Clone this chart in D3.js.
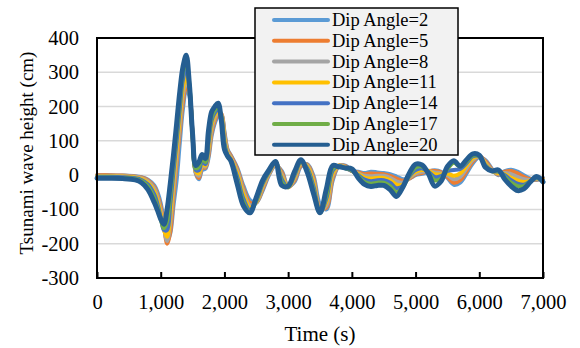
<!DOCTYPE html>
<html>
<head>
<meta charset="utf-8">
<script src="https://cdn.jsdelivr.net/npm/d3@7"></script>
<style>
  body { margin: 0; background: #fff; }
  svg text { font-family: "Liberation Serif", "Times New Roman", serif; fill: #000; }
</style>
</head>
<body>
<div id="chart"></div>
<script>
// time (s)
const times = [0, 200, 400, 600, 700, 800, 900,
  950, 1000, 1050, 1100, 1150, 1200, 1250, 1300, 1350, 1400, 1450, 1500, 1550, 1600,
  1650, 1700, 1750, 1800, 1850, 1900, 1950, 2000, 2050, 2100,
  2200, 2300, 2400, 2500, 2600, 2700, 2800, 2900, 3000, 3100, 3200, 3300, 3400, 3500,
  3600, 3700, 3800, 3900, 4000, 4100, 4200, 4300, 4400, 4500, 4600, 4700, 4800, 4900,
  5000, 5100, 5200, 5300, 5400, 5500, 5600, 5700, 5800, 5900, 6000, 6100, 6200, 6300,
  6400, 6500, 6600, 6700, 6800, 6900, 7000]

// wave height (cm) per dip angle
const dip2 = [0, 0, -1, -3, -6, -13, -30,
  -50, -82, -135, -192, -170, -90, -15, 95, 195, 248, 232, 122, 5, -12,
  15, 18, 50, 115, 152, 172, 178, 128, 75, 58,
  22, -32, -72, -80, -45, 0, 28, 12, -32, -20, 25, 32, -3, -85,
  -100, -15, 27, 28, 12, 10, 6, 10, 8, 6, 3, -4, -12, -10,
  0, 4, 10, 14, 10, -8, -28, -22, 5, 35, 52, 43, 18, 0,
  12, 16, 10, 0, -10, -14, -8]
const dip5 = [0, 0, -1, -4, -7, -15, -35,
  -58, -92, -145, -200, -165, -65, 35, 128, 215, 260, 240, 120, 8, -8,
  22, 22, 58, 125, 160, 178, 180, 122, 72, 56,
  18, -40, -80, -80, -40, 3, 30, 8, -35, -15, 28, 30, -10, -95,
  -95, -8, 28, 26, 12, 8, 3, 5, 4, 3, -2, -10, -16, -10,
  2, 6, 12, 12, 8, -5, -22, -15, 12, 40, 55, 40, 16, 2,
  10, 12, 5, -5, -12, -13, -10]
const dip8 = [-2, -2, -3, -5, -9, -18, -40,
  -66, -102, -152, -192, -140, -40, 55, 148, 235, 275, 245, 118, 10, -2,
  28, 25, 68, 135, 168, 182, 178, 115, 68, 52,
  12, -48, -88, -80, -35, 5, 32, 2, -35, -10, 32, 28, -18, -100,
  -88, 0, 28, 24, 12, 5, -2, -3, -2, -2, -8, -18, -22, -8,
  5, 10, 12, 8, 5, 0, -12, -5, 20, 45, 55, 35, 14, 4,
  6, 3, -5, -12, -14, -12, -12]
const dip11 = [-3, -3, -4, -7, -11, -22, -48,
  -75, -112, -160, -180, -115, -15, 75, 170, 255, 290, 250, 115, 12, 5,
  35, 28, 80, 148, 175, 185, 175, 105, 62, 48,
  5, -58, -95, -78, -30, 8, 35, -5, -35, -5, 35, 25, -25, -105,
  -78, 6, 28, 22, 12, 3, -7, -10, -8, -8, -15, -28, -28, -5,
  10, 15, 12, 3, 2, 5, -2, 5, 28, 50, 55, 32, 12, 6,
  3, -8, -15, -20, -16, -10, -13]
const dip14 = [-5, -5, -6, -9, -14, -27, -57,
  -85, -122, -160, -160, -85, 10, 100, 195, 280, 310, 260, 115, 15, 15,
  42, 32, 95, 160, 182, 192, 172, 95, 58, 45,
  -5, -70, -102, -75, -25, 10, 38, -12, -35, 0, 38, 20, -35, -108,
  -68, 14, 27, 20, 13, 0, -13, -18, -15, -15, -22, -38, -32, -3,
  15, 20, 10, -5, -3, 12, 15, 18, 35, 55, 55, 28, 12, 10,
  0, -15, -25, -28, -18, -8, -15]
const dip17 = [-7, -7, -8, -11, -17, -33, -68,
  -95, -128, -155, -135, -55, 35, 125, 220, 300, 330, 265, 115, 20, 25,
  50, 38, 110, 170, 190, 200, 170, 85, 55, 42,
  -15, -80, -108, -72, -20, 12, 40, -20, -35, 5, 40, 15, -45, -110,
  -58, 20, 25, 20, 15, -3, -20, -25, -22, -22, -32, -50, -35, 0,
  22, 25, 8, -15, -10, 18, 36, 25, 40, 58, 55, 25, 12, 12,
  -5, -22, -32, -32, -18, -6, -18]
const dip20 = [-9, -9, -10, -14, -22, -42, -80,
  -103, -128, -143, -100, -25, 58, 150, 244, 316, 350, 265, 120, 28, 38,
  60, 48, 130, 185, 200, 210, 162, 75, 55, 42,
  -25, -90, -110, -65, -15, 15, 40, -30, -32, 10, 45, 8, -55, -110,
  -40, 28, 24, 21, 18, -8, -27, -33, -30, -30, -42, -62, -35, 5,
  32, 30, 5, -32, -18, 25, 42, 26, 45, 62, 58, 22, 12, 15,
  -12, -32, -45, -40, -20, -4, -20]

const seriesNames = ['Dip Angle=2', 'Dip Angle=5', 'Dip Angle=8', 'Dip Angle=11',
  'Dip Angle=14', 'Dip Angle=17', 'Dip Angle=20']
const seriesValues = [dip2, dip5, dip8, dip11, dip14, dip17, dip20]
const xTicks = [0, 1000, 2000, 3000, 4000, 5000, 6000, 7000]
const yTicks = [-300, -200, -100, 0, 100, 200, 300, 400]

const colors = ['#5B9BD5', '#ED7D31', '#A5A5A5', '#FFC000', '#4472C4', '#70AD47', '#255E91']
const serif = '"Liberation Serif", "Times New Roman", serif'

const width = 580
const height = 348
const margin = { top: 38, right: 37, bottom: 70, left: 97 }
const chartWidth = width - margin.left - margin.right
const chartHeight = height - margin.top - margin.bottom

const svg = d3.select('#chart')
  .append('svg')
  .attr('width', width)
  .attr('height', height)

const chartArea = svg.append('g')
  .attr('transform', `translate(${margin.left}, ${margin.top})`)

const xScale = d3.scaleLinear()
  .domain([0, 7000])
  .range([0, chartWidth])

const yScale = d3.scaleLinear()
  .domain([-300, 400])
  .range([chartHeight, 0])

// gridlines
chartArea.selectAll('.grid')
  .data(yTicks.slice(1, -1))
  .enter()
  .append('line')
  .attr('x1', 0)
  .attr('x2', chartWidth)
  .attr('y1', d => yScale(d))
  .attr('y2', d => yScale(d))
  .attr('stroke', '#d9d9d9')
  .attr('stroke-width', 1.5)

// series
const line = d3.line()
  .x((d, i) => xScale(times[i]))
  .y(d => yScale(d))
  .curve(d3.curveCatmullRom.alpha(0.5))

seriesValues.forEach((vals, i) => {
  chartArea.append('path')
    .datum(vals)
    .attr('d', line)
    .attr('fill', 'none')
    .attr('stroke', colors[i])
    .attr('stroke-width', i === 6 ? 5 : 4)
    .attr('stroke-linejoin', 'round')
    .attr('stroke-linecap', 'round')
})

// plot border
chartArea.append('rect')
  .attr('width', chartWidth)
  .attr('height', chartHeight)
  .attr('fill', 'none')
  .attr('stroke', '#000')
  .attr('stroke-width', 2)

// X axis
const xAxis = chartArea.append('g')
  .attr('transform', `translate(0, ${chartHeight})`)
  .call(d3.axisBottom(xScale).tickValues(xTicks).tickSize(-6).tickPadding(16)
    .tickFormat(d3.format(',')))
xAxis.select('.domain').remove()
xAxis.selectAll('line').attr('stroke', '#000').attr('stroke-width', 2)
xAxis.selectAll('text')
  .style('font-family', serif)
  .style('font-size', '20.5px')

// Y axis
const yAxis = chartArea.append('g')
  .call(d3.axisLeft(yScale).tickValues(yTicks).tickSize(0).tickPadding(18)
    .tickFormat(d => String(d)))
yAxis.select('.domain').remove()
yAxis.selectAll('text')
  .style('font-family', serif)
  .style('font-size', '20.5px')

// axis titles
svg.append('text')
  .attr('x', margin.left + chartWidth / 2)
  .attr('y', 341)
  .attr('text-anchor', 'middle')
  .attr('font-size', '21px')
  .text('Time (s)')

svg.append('text')
  .attr('transform', 'translate(33, 153) rotate(-90)')
  .attr('text-anchor', 'middle')
  .attr('font-size', '19px')
  .text('Tsunami wave height (cm)')

// legend
const legend = svg.append('g')
  .attr('transform', 'translate(255, 8)')

legend.append('rect')
  .attr('width', 203)
  .attr('height', 147)
  .attr('fill', '#f2f2f2')
  .attr('stroke', '#000')
  .attr('stroke-width', 1.5)

const items = legend.selectAll('.item')
  .data(seriesNames)
  .enter()
  .append('g')
  .attr('transform', (d, i) => `translate(0, ${12 + i * 20.8})`)

items.append('line')
  .attr('x1', 19)
  .attr('x2', 73)
  .attr('stroke', (d, i) => colors[i])
  .attr('stroke-width', 4)
  .attr('stroke-linecap', 'round')

items.append('text')
  .attr('x', 77)
  .attr('y', 6)
  .attr('font-size', '18.5px')
  .text(d => d)
</script>
</body>
</html>
